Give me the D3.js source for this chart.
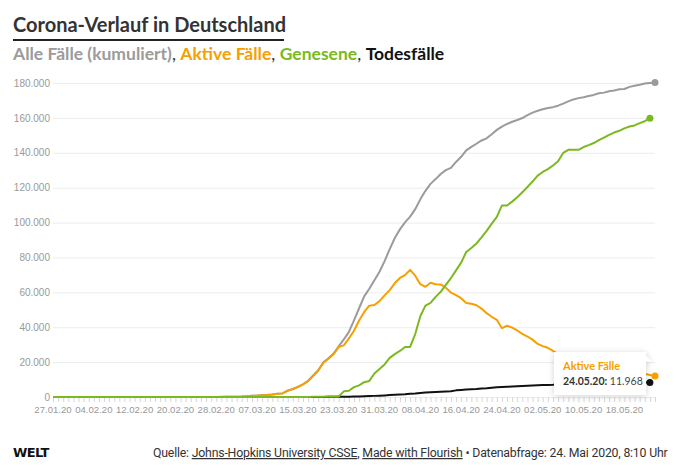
<!DOCTYPE html>
<html>
<head>
<meta charset="utf-8">
<script src="https://cdn.jsdelivr.net/npm/d3@7"></script>
<style>
  body { margin: 0; background: #fff; }
  svg { display: block; font-family: "Lato", "Noto Sans", sans-serif; }
</style>
</head>
<body>
<div id="chart"></div>
<script>
// Daily values, 27.01.20 - 24.05.20 (Johns Hopkins CSSE, Germany)
const startDate = new Date(2020, 0, 27);
const endDate = new Date(2020, 4, 24);

const confirmed = [1,4,4,4,5,8,10,12,12,12,12,13,13,14,14,16,
  16,16,16,16,16,16,16,16,16,16,16,16,16,17,
  27,46,48,79,130,159,196,262,482,670,
  799,1040,1176,1457,1908,2078,3675,4585,5795,7272,
  9257,12327,15320,19848,22213,24873,29056,32986,37323,43938,
  50871,57695,62095,66885,71808,77872,84794,91159,96092,100123,
  103374,107663,113296,118181,122171,124908,127854,130072,131359,134753,
  137698,141397,143342,145184,147065,148291,150648,153129,154999,156513,
  157770,158758,159912,161539,163009,164077,164967,165664,166152,167007,
  168162,169430,170588,171324,171879,172576,173171,174098,174478,175233,
  175752,176369,176551,177778,178473,179021,179710,179986,180328];

const active = [1,4,4,4,5,8,10,12,12,12,
  12,13,13,14,14,16,15,15,15,15,
  15,15,4,4,4,2,2,2,2,3,
  12,30,32,63,114,143,180,246,466,653,
  781,1022,1156,1437,1880,2050,3622,4530,5738,7188,
  9166,12194,15163,19601,21896,24513,28667,29586,33570,37998,
  43871,48781,52351,52740,54933,58252,61247,65309,68248,69839,
  72864,69566,64647,63167,65491,64637,64532,62578,59865,58349,
  56646,53931,53483,52598,50703,48058,45969,44254,39439,40836,
  39794,38132,36198,34672,32886,30441,29155,28198,26459,24632,
  20870,20220,21339,22055,20918,20438,19710,19014,17881,16995,
  16193,15766,14459,14593,14589,13827,13362,12639,11968];

const recovered = [0,0,0,0,0,0,0,0,0,0,0,0,0,0,0,0,
  1,1,1,1,1,1,12,12,12,14,14,14,14,14,
  15,16,16,16,16,16,16,16,16,17,
  18,18,18,18,25,25,46,46,46,67,
  67,105,113,180,233,266,266,3243,3547,5673,
  6658,8481,9211,13500,16100,18700,22440,24575,26400,28700,
  28700,36081,46300,52407,53913,57400,60300,64300,68200,72600,
  77000,83114,85400,88000,91500,95200,99400,103300,109800,109800,
  112000,114500,117400,120400,123500,126900,129000,130600,132700,135100,
  139900,141700,141700,141700,143300,144400,145600,147200,148700,150300,
  151597,152600,154011,155041,155681,156966,158087,159800];

const deaths = [0,0,0,0,0,0,0,0,0,0,0,0,0,0,0,0,0,0,0,0,
  0,0,0,0,0,0,0,0,0,0,0,0,0,0,0,0,0,0,0,0,0,0,
  2,2,3,3,7,9,11,17,
  24,28,44,67,84,94,123,157,206,267,
  342,433,533,645,775,920,1107,1275,1444,1584,
  1810,2016,2349,2607,2767,2871,3022,3194,3294,3804,
  4052,4352,4459,4586,4862,5033,5279,5575,5760,5877,
  5976,6126,6314,6467,6623,6736,6812,6866,6993,7275,
  7392,7510,7549,7569,7661,7738,7861,7884,7897,7938,
  7962,8003,8081,8144,8203,8228,8261,8283];

const xTickLabels = ["27.01.20","04.02.20","12.02.20","20.02.20","28.02.20","07.03.20","15.03.20",
  "23.03.20","31.03.20","08.04.20","16.04.20","24.04.20","02.05.20","10.05.20","18.05.20"];
const yTicks = [0,20000,40000,60000,80000,100000,120000,140000,160000,180000];

const colors = { all: "#9b9b9b", active: "#f5a000", recovered: "#7cb920", deaths: "#111111" };

const width = 676, height = 474;
const margin = { top: 83, right: 21, bottom: 77, left: 53 };

const de = d3.formatLocale({ decimal: ",", thousands: ".", grouping: [3], currency: ["", " €"] });
const fmt = de.format(",");
const parse = d3.timeParse("%d.%m.%y");
const fmtDate = d3.timeFormat("%d.%m.%y");

const dates = d3.timeDay.range(startDate, d3.timeDay.offset(endDate, 1));

const svg = d3.select("#chart").append("svg")
  .attr("width", width)
  .attr("height", height);

// shadow for tooltip
const defs = svg.append("defs");
const f = defs.append("filter").attr("id", "shadow")
  .attr("x", "-30%").attr("y", "-40%").attr("width", "160%").attr("height", "180%");
f.append("feDropShadow").attr("dx", 0).attr("dy", 1).attr("stdDeviation", 3)
  .attr("flood-color", "#000").attr("flood-opacity", 0.18);

const x = d3.scaleTime()
  .domain([startDate, endDate])
  .range([margin.left, width - margin.right]);

const y = d3.scaleLinear()
  .domain([0, 180000])
  .range([height - margin.bottom, margin.top]);

// Title
svg.append("text")
  .attr("x", 13).attr("y", 32)
  .attr("font-size", 20).attr("font-weight", 700).attr("fill", "#333")
  .text("Corona-Verlauf in Deutschland");
svg.append("rect")
  .attr("x", 13).attr("y", 39).attr("width", 271).attr("height", 2)
  .attr("fill", "#222");

const sub = svg.append("text")
  .attr("x", 13).attr("y", 60)
  .attr("font-size", 17.5).attr("font-weight", 700);
sub.append("tspan").attr("fill", colors.all).text("Alle Fälle (kumuliert)");
sub.append("tspan").attr("fill", "#333").attr("font-weight", 400).text(", ");
sub.append("tspan").attr("fill", colors.active).text("Aktive Fälle");
sub.append("tspan").attr("fill", "#333").attr("font-weight", 400).text(", ");
sub.append("tspan").attr("fill", colors.recovered).text("Genesene");
sub.append("tspan").attr("fill", "#333").attr("font-weight", 400).text(", ");
sub.append("tspan").attr("fill", "#111").text("Todesfälle");

// Y grid + labels
const yAxis = svg.append("g")
  .attr("transform", `translate(${margin.left},0)`)
  .call(d3.axisLeft(y).tickValues(yTicks).tickFormat(fmt)
    .tickSize(-(width - margin.left - margin.right)).tickPadding(3));
yAxis.select(".domain").remove();
yAxis.selectAll("line").attr("stroke", "#ececec");
yAxis.selectAll("text").attr("fill", "#999").attr("font-size", 10)
  .attr("font-family", "Liberation Sans, Arial, sans-serif");

// X axis: daily ticks, labels every 8 days
const xAxis = svg.append("g")
  .attr("transform", `translate(0,${height - margin.bottom})`)
  .call(d3.axisBottom(x).tickValues(dates).tickSize(5).tickFormat(""));
xAxis.select(".domain").remove();
xAxis.selectAll("line").attr("stroke", "#d6d6d6");

svg.append("g")
  .selectAll("text")
  .data(xTickLabels)
  .join("text")
  .attr("x", d => x(parse(d)))
  .attr("y", height - margin.bottom + 16)
  .attr("text-anchor", "middle")
  .attr("font-size", 9.6)
  .attr("font-family", "Liberation Sans, Arial, sans-serif")
  .attr("fill", "#999")
  .text(d => d);

// Lines
const series = [
  { key: "all", values: confirmed },
  { key: "deaths", values: deaths },
  { key: "active", values: active },
  { key: "recovered", values: recovered }
];

const line = d3.line()
  .x((d, i) => x(dates[i]))
  .y(d => y(d));

svg.append("g")
  .selectAll("path")
  .data(series)
  .join("path")
  .attr("fill", "none")
  .attr("stroke", d => colors[d.key])
  .attr("stroke-width", 2)
  .attr("stroke-linejoin", "round")
  .attr("d", d => line(d.values));

svg.append("g")
  .selectAll("circle")
  .data(series.filter(d => d.key !== "deaths"))
  .join("circle")
  .attr("cx", d => x(dates[d.values.length - 1]))
  .attr("cy", d => y(d.values[d.values.length - 1]))
  .attr("r", 3.5)
  .attr("fill", d => colors[d.key]);

// Tooltip
const lastI = active.length - 1;
const tx = x(dates[lastI]) - 101, ty = y(active[lastI]) - 24;
const tip = svg.append("g").attr("transform", `translate(${tx},${ty})`);
tip.append("path")
  .attr("d", "M0,0 H92 V4 L97,9 L92,10 V43 H0 Z")
  .attr("fill", "#fff")
  .attr("filter", "url(#shadow)");
tip.append("text")
  .attr("x", 9).attr("y", 18)
  .attr("font-size", 11).attr("font-weight", 700).attr("fill", colors.active)
  .text("Aktive Fälle");
const t2 = tip.append("text").attr("x", 9).attr("y", 33).attr("font-size", 10.5).attr("fill", "#333");
t2.append("tspan").attr("font-weight", 700).text(fmtDate(dates[lastI]) + ": ");
t2.append("tspan").attr("fill", "#444").text(fmt(active[lastI]));

// death marker drawn above tooltip edge
const dI = deaths.length - 1;
svg.append("circle")
  .attr("cx", x(dates[dI])).attr("cy", y(deaths[dI]))
  .attr("r", 3.5).attr("fill", colors.deaths);

// Footer
svg.append("text")
  .attr("x", 13).attr("y", 457)
  .attr("font-size", 13).attr("font-weight", 900)
  .attr("font-family", "DejaVu Sans, sans-serif")
  .attr("letter-spacing", -0.6)
  .attr("fill", "#111")
  .text("WELT");

const src = svg.append("text")
  .attr("x", 153).attr("y", 457)
  .attr("font-size", 12.3).attr("fill", "#333")
  .attr("font-family", "Roboto, sans-serif")
  .attr("letter-spacing", -0.2);
src.append("tspan").text("Quelle: ");
src.append("tspan").attr("text-decoration", "underline").text("Johns-Hopkins University CSSE");
src.append("tspan").text(", ");
src.append("tspan").attr("text-decoration", "underline").text("Made with Flourish");
src.append("tspan").text(" • Datenabfrage: 24. Mai 2020, 8:10 Uhr");
</script>
</body>
</html>
